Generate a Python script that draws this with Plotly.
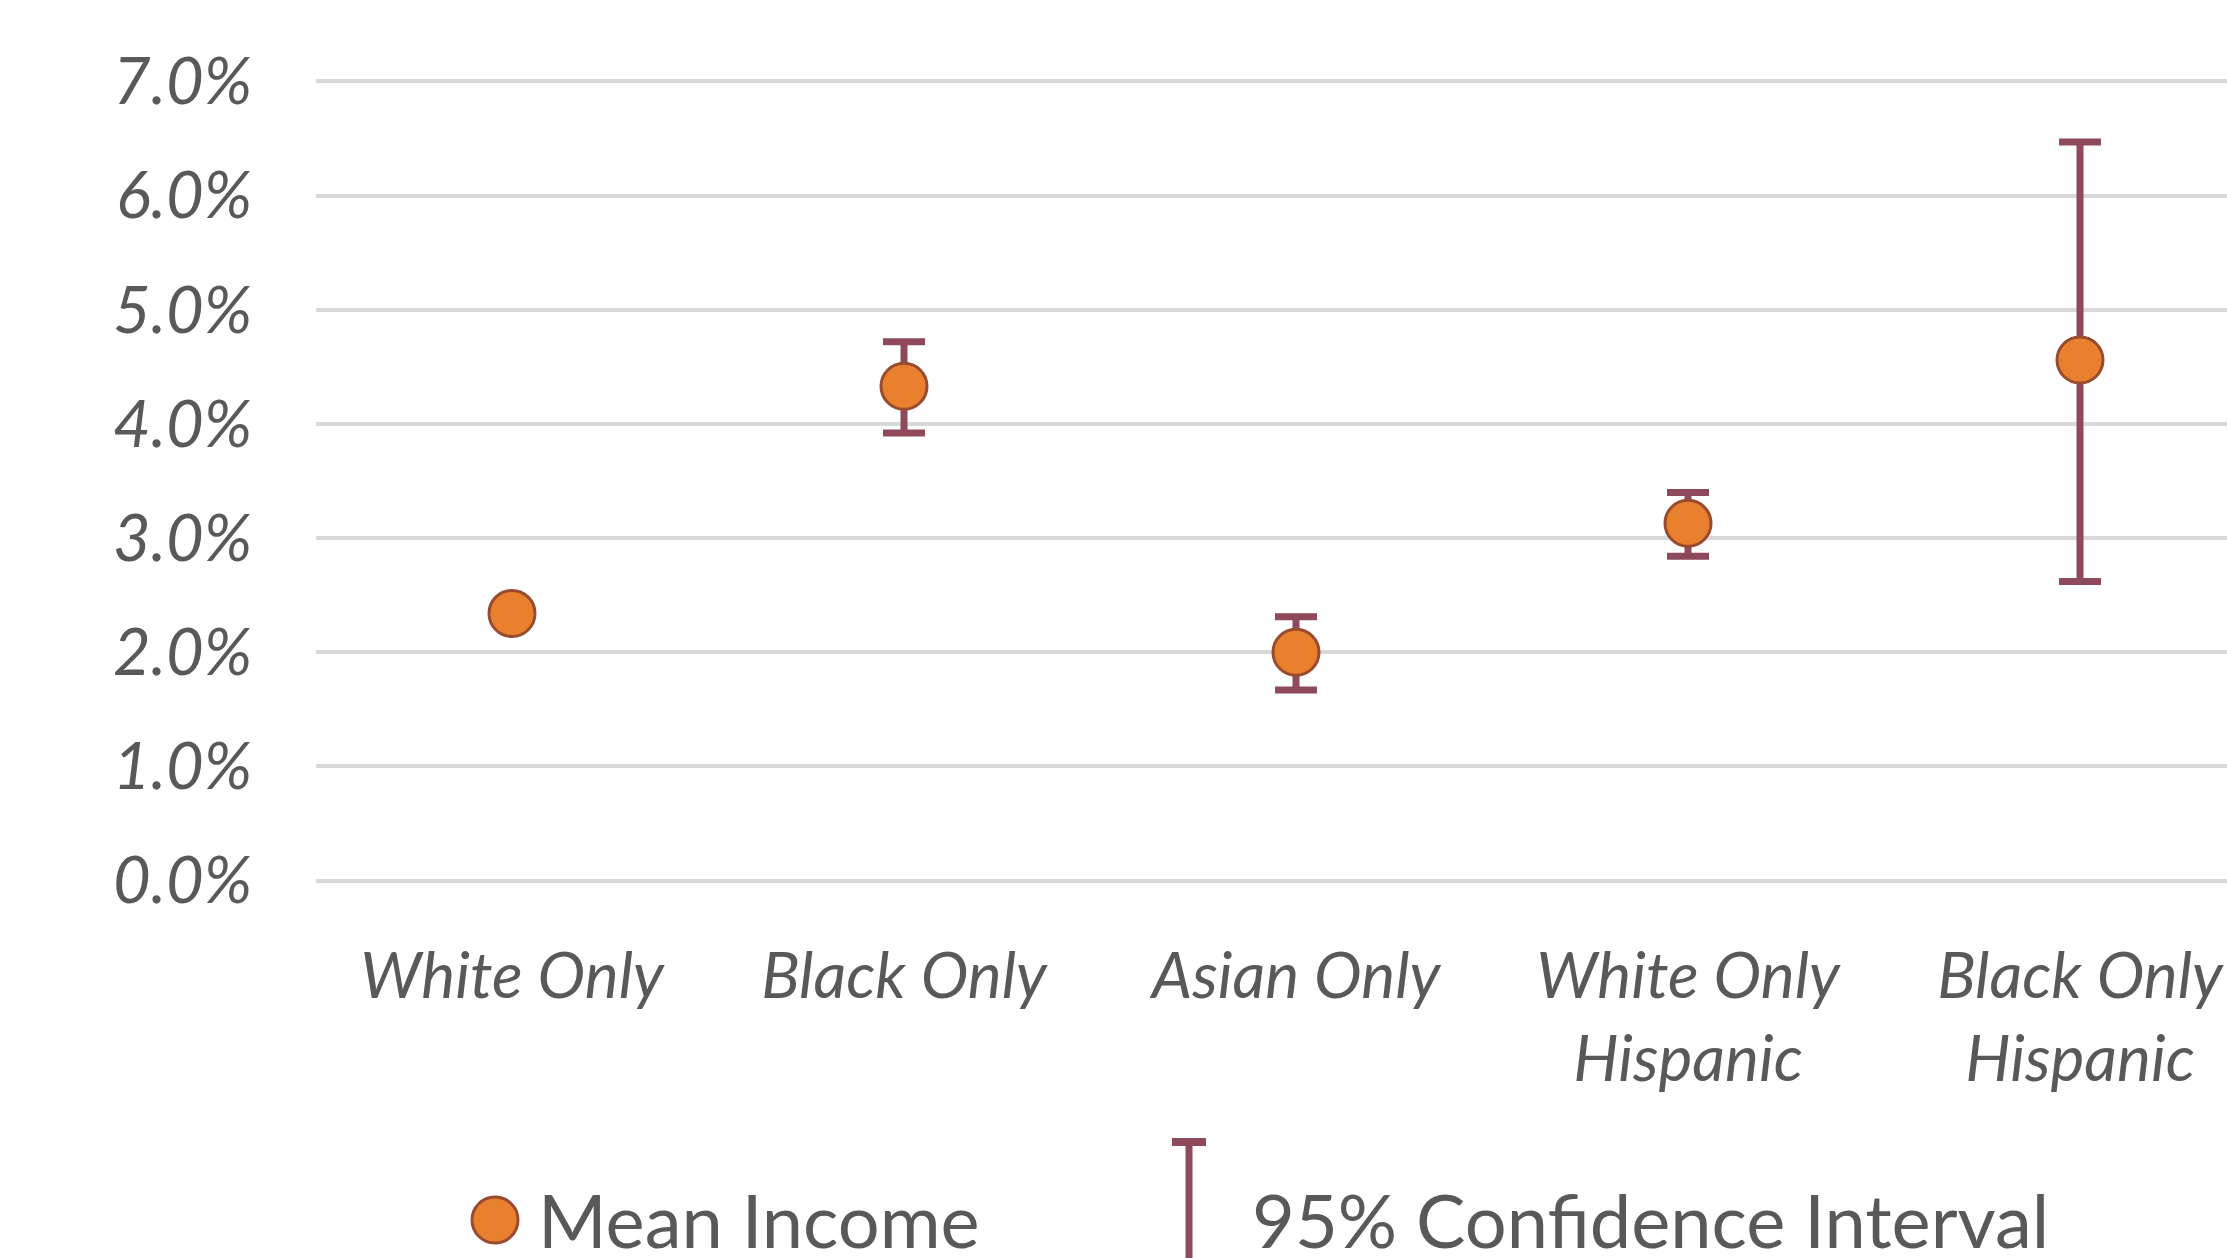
import plotly.graph_objects as go

# Mean income growth by group, with 95% confidence interval bounds (percent)
categories = ["White Only", "Black Only", "Asian Only",
              "White Only<br>Hispanic", "Black Only<br>Hispanic"]
mean_income = [2.34, 4.33, 2.00, 3.13, 4.56]
ci_lower = [2.27, 3.92, 1.67, 2.84, 2.62]
ci_upper = [2.41, 4.72, 2.31, 3.40, 6.47]
y_ticks = [0, 1, 2, 3, 4, 5, 6, 7]
legend_labels = ["Mean Income", "95% Confidence Interval"]

W, H = 2227, 1258
M_L, M_R, M_T, M_B = 316, 0, 70, 366
PLOT_W = W - M_L - M_R
PLOT_H = H - M_T - M_B

ORANGE = "#E8802E"
OUTLINE = "#9A4B2F"
CI_COLOR = "#8E4A5B"
TEXT = "#595959"
GRID = "#D9D9D9"


def px_x(px):
    return (px - M_L) / PLOT_W


def px_y(py):
    return (H - M_B - py) / PLOT_H


err_plus = [u - m for u, m in zip(ci_upper, mean_income)]
err_minus = [m - lo for m, lo in zip(mean_income, ci_lower)]

fig = go.Figure()
fig.add_trace(go.Scatter(
    x=list(range(len(categories))),
    y=mean_income,
    mode="markers",
    name=legend_labels[0],
    marker=dict(size=46, color=ORANGE, line=dict(color=OUTLINE, width=3)),
    error_y=dict(type="data", symmetric=False, array=err_plus,
                 arrayminus=err_minus, color=CI_COLOR, thickness=7, width=21),
    showlegend=False,
))

# Legend drawn in figure space below the axis labels
shapes = [
    dict(type="circle", xref="paper", yref="paper",
         xsizemode="pixel", ysizemode="pixel",
         xanchor=px_x(495), yanchor=px_y(1220),
         x0=-23, x1=23, y0=-23, y1=23,
         fillcolor=ORANGE, line=dict(color=OUTLINE, width=3)),
    dict(type="line", xref="paper", yref="paper",
         x0=px_x(1189), x1=px_x(1189), y0=px_y(1142), y1=px_y(1265),
         line=dict(color=CI_COLOR, width=7)),
    dict(type="line", xref="paper", yref="paper",
         x0=px_x(1172), x1=px_x(1206), y0=px_y(1142), y1=px_y(1142),
         line=dict(color=CI_COLOR, width=8)),
]
legend_font = dict(family="Lato", size=74, color=TEXT)
annotations = [
    dict(text=legend_labels[0], xref="paper", yref="paper",
         x=px_x(536), y=px_y(1219), xanchor="left", yanchor="middle",
         height=72, valign="middle",
         showarrow=False, font=legend_font),
    dict(text=legend_labels[1], xref="paper", yref="paper",
         x=px_x(1250), y=px_y(1219), xanchor="left", yanchor="middle",
         height=72, valign="middle",
         showarrow=False, font=legend_font),
]

fig.update_layout(
    width=W, height=H,
    margin=dict(l=M_L, r=M_R, t=M_T, b=M_B, pad=0),
    paper_bgcolor="white", plot_bgcolor="white",
    shapes=shapes, annotations=annotations,
    xaxis=dict(
        range=[-0.5, -0.5 + PLOT_W / 392],
        tickmode="array", tickvals=list(range(len(categories))),
        ticktext=categories,
        tickfont=dict(family="Lato", size=64, color=TEXT, style="italic"),
        showgrid=False, zeroline=False, showline=False, ticks="",
        ticklabelstandoff=41,
    ),
    yaxis=dict(
        range=[-0.1, 7.1],
        tickmode="array", tickvals=y_ticks,
        ticktext=[f"{v:.1f}%" for v in y_ticks],
        tickfont=dict(family="Lato", size=65, color=TEXT, style="italic"),
        showgrid=True, gridcolor=GRID, gridwidth=4,
        zeroline=False, showline=False, ticks="",
        ticklabelstandoff=63,
    ),
)

fig.write_html("out.html")
